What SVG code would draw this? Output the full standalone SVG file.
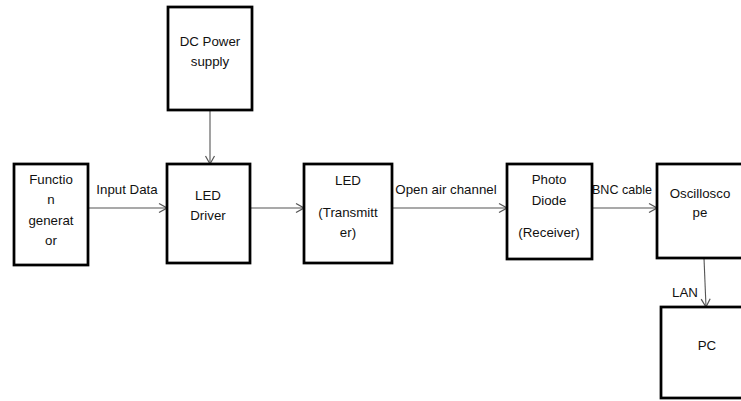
<svg xmlns="http://www.w3.org/2000/svg" width="741" height="401" viewBox="0 0 741 401">
  <style>
    .box { fill: #ffffff; stroke: #000000; stroke-width: 2.75; }
    .lbl { font-family: "Liberation Sans", Arial, sans-serif; font-size: 13.3px; fill: #111111; text-anchor: middle; }
    .edge { fill: none; stroke: #555555; stroke-width: 1.1; marker-end: url(#arrow); }
  </style>
  <defs>
    <marker id="arrow" markerUnits="userSpaceOnUse" markerWidth="10" markerHeight="12" refX="9" refY="6" orient="auto">
      <path d="M1,1.5 L9,6 L1,10.5" fill="none" stroke="#555555" stroke-width="1.2"/>
    </marker>
  </defs>
  <rect width="741" height="401" fill="#ffffff"/>

  <!-- connectors -->
  <g id="connectors">
    <line class="edge" x1="88" y1="208" x2="167" y2="208"/>
    <line class="edge" x1="210" y1="110" x2="210" y2="164"/>
    <line class="edge" x1="250" y1="208" x2="304" y2="208"/>
    <line class="edge" x1="392" y1="208" x2="507" y2="208"/>
    <line class="edge" x1="592" y1="208" x2="657" y2="208"/>
    <line class="edge" x1="704" y1="258" x2="706" y2="307"/>
    <text class="lbl" x="127" y="194">Input Data</text>
    <text class="lbl" x="446" y="194">Open air channel</text>
    <text class="lbl" x="622" y="194" textLength="60" lengthAdjust="spacingAndGlyphs">BNC cable</text>
    <text class="lbl" x="685" y="297">LAN</text>
  </g>

  <g id="function-generator">
    <rect class="box" x="14" y="164" width="74" height="101"/>
    <text class="lbl" x="51" y="184">Functio</text>
    <text class="lbl" x="51" y="204">n</text>
    <text class="lbl" x="51" y="225">generat</text>
    <text class="lbl" x="51" y="245">or</text>
  </g>

  <g id="dc-power-supply">
    <rect class="box" x="168" y="7" width="84" height="103"/>
    <text class="lbl" x="210" y="46">DC Power</text>
    <text class="lbl" x="210" y="66">supply</text>
  </g>

  <g id="led-driver">
    <rect class="box" x="167" y="164" width="83" height="99"/>
    <text class="lbl" x="208" y="200">LED</text>
    <text class="lbl" x="208" y="220">Driver</text>
  </g>

  <g id="led-transmitter">
    <rect class="box" x="304" y="164" width="88" height="99"/>
    <text class="lbl" x="348" y="185">LED</text>
    <text class="lbl" x="348" y="217">(Transmitt</text>
    <text class="lbl" x="348" y="237">er)</text>
  </g>

  <g id="photo-diode">
    <rect class="box" x="507" y="164" width="85" height="95"/>
    <text class="lbl" x="549" y="184">Photo</text>
    <text class="lbl" x="549" y="205">Diode</text>
    <text class="lbl" x="549" y="237">(Receiver)</text>
  </g>

  <g id="oscilloscope">
    <rect class="box" x="657" y="164" width="100" height="94"/>
    <text class="lbl" x="700" y="198">Oscillosco</text>
    <text class="lbl" x="700" y="217">pe</text>
  </g>

  <g id="pc">
    <rect class="box" x="661" y="307" width="100" height="91"/>
    <text class="lbl" x="707" y="350">PC</text>
  </g>
</svg>
